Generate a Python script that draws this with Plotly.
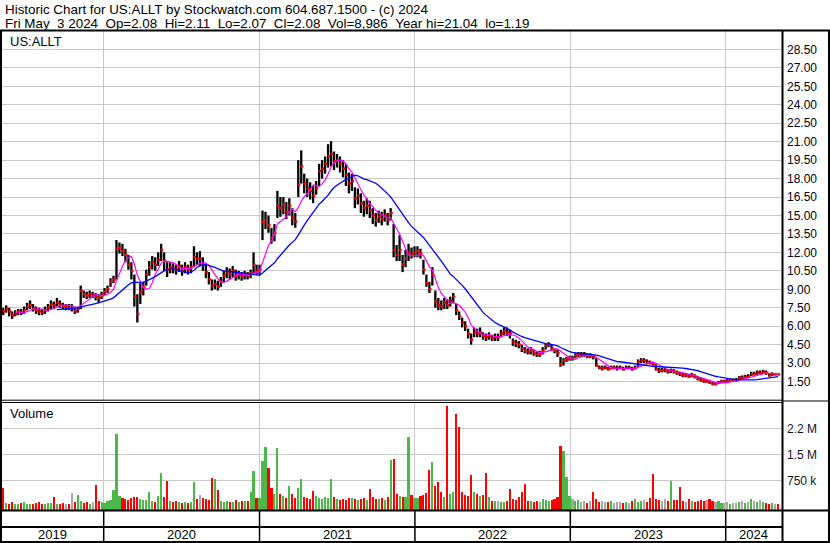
import plotly.graph_objects as go
import pandas as pd

# ---------------- data (weekly samples) ----------------
start_date = "2019-05-03"

close = [
    7.3, 7.2, 7.4, 7.2, 6.9, 7.0, 7.2, 7.1, 7.3, 7.6,
    7.7, 7.4, 7.3, 7.2, 7.1, 7.3, 7.5, 7.8, 7.7, 7.9,
    7.8, 7.6, 7.6, 7.5, 7.5, 7.2, 7.4, 8.9, 8.6, 8.5,
    8.6, 8.6, 8.4, 8.3, 8.5, 8.8, 9.0, 9.6, 9.8, 12.3,
    12.4, 12.1, 11.8, 11.0, 10.5, 8.4, 7.0, 8.8, 9.2, 10.2,
    10.8, 11.2, 11.0, 11.4, 12.2, 11.3, 10.6, 10.8, 10.7, 10.6,
    10.9, 10.5, 10.8, 10.6, 10.8, 11.6, 11.5, 11.5, 11.0, 10.4,
    9.8, 9.3, 9.4, 9.2, 9.6, 10.1, 10.4, 10.2, 10.5, 10.1,
    10.2, 10.0, 10.2, 10.1, 10.3, 11.0, 10.5, 10.6, 14.5, 14.6,
    14.2, 13.2, 13.6, 15.8, 15.6, 15.9, 15.3, 15.8, 14.8, 14.5,
    17.5, 19.0, 17.6, 17.2, 17.0, 16.6, 17.2, 18.6, 18.8, 19.2,
    19.8, 20.0, 19.4, 19.5, 19.2, 18.8, 18.3, 17.6, 17.8, 16.4,
    16.6, 16.0, 15.6, 15.8, 15.4, 15.0, 14.6, 14.9, 14.7, 15.0,
    14.6, 15.2, 12.2, 11.8, 12.2, 11.0, 11.5, 12.0, 11.8, 12.0,
    12.1, 11.9, 10.6, 9.5, 9.0, 10.2, 8.0, 7.7, 7.6, 7.9,
    7.7, 8.1, 8.4, 7.3, 6.8, 6.3, 6.0, 5.4, 4.9, 5.5,
    5.4, 5.5, 5.2, 5.1, 5.2, 5.0, 5.1, 5.1, 5.4, 5.6,
    5.5, 5.4, 4.7, 4.6, 4.5, 4.2, 4.0, 3.9, 4.0, 3.8,
    3.7, 3.7, 4.0, 4.4, 4.5, 4.2, 4.0, 3.8, 2.9, 3.2,
    3.3, 3.4, 3.4, 3.6, 3.7, 3.7, 3.7, 3.6, 3.6, 3.5,
    2.8, 2.6, 2.6, 2.6, 2.5, 2.6, 2.6, 2.6, 2.6, 2.5,
    2.6, 2.6, 2.5, 2.6, 3.1, 3.2, 3.2, 3.1, 3.0, 2.9,
    2.5, 2.4, 2.4, 2.4, 2.3, 2.4, 2.3, 2.2, 2.1, 2.0,
    2.0, 1.9, 2.0, 1.9, 1.7, 1.6, 1.5, 1.5, 1.4, 1.3,
    1.3, 1.4, 1.5, 1.5, 1.5, 1.6, 1.6, 1.6, 1.8, 1.8,
    1.9, 1.9, 2.1, 2.1, 2.2, 2.2, 2.3, 2.2, 2.0, 2.1,
    2.1, 2.08,
]

high = [
    7.7, 7.5, 7.7, 7.5, 7.2, 7.3, 7.4, 7.4, 7.6, 7.9,
    8.1, 7.8, 7.6, 7.5, 7.4, 7.6, 7.8, 8.1, 8.0, 8.3,
    8.1, 7.9, 7.8, 7.8, 7.8, 7.6, 7.6, 9.3, 8.9, 8.8,
    8.9, 8.8, 8.7, 8.6, 8.8, 9.1, 9.3, 9.9, 10.1, 13.0,
    12.8, 12.7, 12.3, 11.8, 11.2, 10.2, 8.6, 9.5, 9.6, 10.6,
    11.3, 11.7, 11.6, 12.0, 12.7, 12.0, 11.2, 11.2, 11.1, 11.0,
    11.3, 11.0, 11.2, 11.0, 11.3, 12.5, 12.0, 12.1, 11.6, 11.0,
    10.4, 9.8, 9.8, 9.7, 10.0, 10.5, 10.8, 10.7, 10.9, 10.6,
    10.5, 10.4, 10.5, 10.4, 10.6, 12.0, 11.0, 11.0, 15.4, 15.3,
    15.0, 14.0, 14.3, 17.0, 16.5, 16.5, 16.1, 16.4, 15.6, 15.2,
    19.5, 20.3, 18.4, 18.0, 17.7, 17.4, 17.8, 19.2, 19.5, 19.8,
    20.8, 21.04, 20.2, 20.0, 19.8, 19.5, 19.2, 18.5, 18.4, 17.3,
    17.2, 16.8, 16.2, 16.4, 16.2, 15.6, 15.2, 15.4, 15.3, 15.5,
    15.2, 15.6, 14.3, 12.6, 13.4, 11.8, 12.2, 12.7, 12.4, 12.5,
    12.5, 12.3, 11.4, 10.2, 9.6, 10.8, 8.9, 8.3, 8.1, 8.3,
    8.2, 8.4, 8.7, 7.8, 7.2, 6.7, 6.4, 5.8, 5.4, 5.9,
    5.8, 5.9, 5.5, 5.4, 5.5, 5.3, 5.4, 5.4, 5.7, 5.9,
    5.9, 5.7, 5.0, 4.9, 4.8, 4.5, 4.3, 4.2, 4.3, 4.1,
    3.9, 4.0, 4.3, 4.6, 4.7, 4.5, 4.2, 4.1, 3.5, 3.4,
    3.5, 3.6, 3.6, 3.8, 3.9, 3.9, 3.9, 3.8, 3.8, 3.7,
    3.4, 2.8, 2.8, 2.8, 2.7, 2.8, 2.8, 2.8, 2.8, 2.7,
    2.8, 2.8, 2.7, 2.8, 3.3, 3.4, 3.4, 3.3, 3.2, 3.1,
    2.9, 2.6, 2.6, 2.6, 2.5, 2.55, 2.5, 2.4, 2.3, 2.2,
    2.2, 2.1, 2.2, 2.1, 1.9, 1.8, 1.7, 1.7, 1.6, 1.5,
    1.45, 1.55, 1.65, 1.65, 1.7, 1.75, 1.75, 1.8, 1.95, 2.0,
    2.05, 2.1, 2.3, 2.3, 2.4, 2.4, 2.45, 2.4, 2.2, 2.25,
    2.2, 2.11,
]

low = [
    7.0, 6.9, 7.1, 6.8, 6.6, 6.8, 6.9, 6.9, 7.0, 7.3,
    7.4, 7.2, 7.0, 6.9, 6.9, 7.0, 7.2, 7.4, 7.4, 7.6,
    7.5, 7.4, 7.3, 7.3, 7.2, 7.0, 7.1, 7.4, 8.3, 8.2,
    8.3, 8.3, 8.1, 7.9, 8.2, 8.5, 8.7, 9.2, 9.5, 9.8,
    11.9, 11.7, 11.2, 10.6, 9.8, 7.6, 6.3, 7.8, 8.5, 9.3,
    10.1, 10.6, 10.5, 10.9, 11.3, 10.5, 10.0, 10.3, 10.3, 10.2,
    10.4, 10.1, 10.3, 10.2, 10.3, 10.8, 11.0, 10.9, 10.5, 9.9,
    9.4, 8.9, 9.0, 8.9, 9.2, 9.6, 9.9, 9.8, 10.0, 9.7,
    9.8, 9.7, 9.8, 9.8, 9.9, 10.3, 10.2, 10.2, 13.0, 13.9,
    13.6, 12.7, 12.9, 14.8, 14.9, 15.1, 14.7, 15.0, 14.2, 14.0,
    16.5, 17.6, 16.8, 16.5, 16.3, 16.0, 16.7, 17.4, 18.0, 18.4,
    18.9, 19.0, 18.7, 18.9, 18.5, 18.1, 17.4, 16.8, 17.0, 15.6,
    15.9, 15.2, 14.9, 15.1, 14.8, 14.3, 14.1, 14.4, 14.2, 14.5,
    14.2, 14.6, 11.6, 11.3, 11.3, 10.4, 10.8, 11.3, 11.5, 11.6,
    11.6, 11.5, 10.2, 9.2, 8.7, 9.3, 7.5, 7.3, 7.3, 7.4,
    7.4, 7.6, 7.9, 6.9, 6.5, 5.9, 5.6, 5.0, 4.5, 5.1,
    5.1, 5.1, 4.9, 4.8, 4.9, 4.8, 4.8, 4.8, 5.1, 5.3,
    5.2, 5.0, 4.4, 4.3, 4.2, 3.9, 3.8, 3.7, 3.7, 3.6,
    3.5, 3.5, 3.7, 4.1, 4.3, 4.0, 3.8, 3.5, 2.7, 2.8,
    3.1, 3.2, 3.2, 3.4, 3.5, 3.5, 3.5, 3.4, 3.4, 3.3,
    2.7, 2.5, 2.4, 2.5, 2.4, 2.5, 2.5, 2.4, 2.5, 2.4,
    2.5, 2.5, 2.4, 2.5, 2.7, 3.0, 3.0, 2.9, 2.9, 2.8,
    2.4, 2.2, 2.25, 2.25, 2.15, 2.2, 2.15, 2.05, 1.95, 1.85,
    1.85, 1.8, 1.85, 1.75, 1.6, 1.5, 1.4, 1.4, 1.3, 1.2,
    1.19, 1.3, 1.4, 1.4, 1.4, 1.5, 1.5, 1.5, 1.65, 1.7,
    1.8, 1.8, 1.95, 2.0, 2.05, 2.1, 2.15, 2.05, 1.9, 1.95,
    2.0, 2.07,
]

volume_k = [
    160, 530, 90, 70, 120, 80, 60, 90, 110, 70,
    60, 80, 90, 130, 70, 60, 90, 100, 270, 80,
    70, 90, 60, 80, 380, 120, 320, 150, 90, 110,
    80, 120, 610, 150, 110, 90, 140, 180, 470, 2080,
    300, 250, 220, 180, 240, 280, 260, 200, 190, 170,
    400, 160, 120, 300, 960, 260, 730, 150, 110, 140,
    120, 90, 130, 100, 110, 700, 200, 330, 240, 200,
    180, 820, 790, 480, 160, 120, 150, 130, 110, 170,
    120, 140, 160, 150, 420, 1020, 250, 230, 1300, 1720,
    1100, 530, 350, 1690, 360, 300, 250, 600, 350, 240,
    530, 790, 280, 250, 220, 450, 300, 250, 200, 280,
    240, 790, 260, 200, 180, 220, 190, 250, 230, 200,
    180, 210, 250, 190, 500, 260, 220, 200, 240, 180,
    260, 1340, 1370, 350, 300, 280, 270, 1990, 320, 250,
    230, 300, 330, 380, 1050, 1280, 600, 700, 400, 280,
    2890, 350, 420, 2660, 2290, 400, 320, 300, 900, 420,
    350, 300, 340, 960, 280, 160, 150, 140, 120, 130,
    150, 500, 200, 180, 260, 400, 650, 150, 140, 120,
    160, 130, 200, 170, 150, 180, 220, 260, 1740, 1600,
    850, 300, 200, 150, 180, 120, 140, 100, 160, 420,
    200, 130, 150, 120, 110, 140, 100, 130, 120, 90,
    110, 100, 140, 200, 120, 150, 180, 130, 240, 930,
    200, 180, 160, 220, 150, 720, 190, 170, 560, 140,
    130, 200, 150, 120, 160, 190, 140, 170, 200, 150,
    120, 140, 100, 90, 110, 80, 100, 90, 130, 140,
    90, 120, 200, 150, 110, 170, 130, 90, 80, 100,
    70, 60,
]

year_labels = ["2019", "2020", "2021", "2022", "2023", "2024"]
year_starts = ["2020-01-01", "2021-01-01", "2022-01-01", "2023-01-01", "2024-01-01"]
price_ticks = [1.5, 3.0, 4.5, 6.0, 7.5, 9.0, 10.5, 12.0, 13.5, 15.0,
               16.5, 18.0, 19.5, 21.0, 22.5, 24.0, 25.5, 27.0, 28.5]
vol_tick_vals = [750000, 1500000, 2250000]
vol_tick_text = ["750 k", "1.5 M", "2.2 M"]

title1 = "Historic Chart for US:ALLT by Stockwatch.com 604.687.1500 - (c) 2024"
title2 = ("Fri May \u00a03 2024 \u00a0Op=2.08 \u00a0Hi=2.11 \u00a0Lo=2.07 \u00a0Cl=2.08"
          " \u00a0Vol=8,986 \u00a0Year hi=21.04 \u00a0lo=1.19")

# ---------------- derived ----------------
dates = pd.date_range(start_date, periods=len(close), freq="7D")
cs = pd.Series(close)
ma_short = cs.rolling(6).mean()
ma_long = cs.rolling(20).mean()

vol = [v * 1000 for v in volume_k]
vol_colors = []
for i, c in enumerate(close):
    prev = close[i - 1] if i > 0 else c - 1
    if c > prev:
        vol_colors.append("#4cb848")
    elif c < prev:
        vol_colors.append("#ff0000")
    else:
        vol_colors.append("#a8a8a8")

# ---------------- geometry ----------------
W, H = 830, 543
L, R, T, B = 1, 48, 31, 33
PW, PH = W - L - R, H - T - B


def px(X):
    return (X - L) / PW


def py(Y):
    return (H - B - Y) / PH


jan2020 = pd.Timestamp("2020-01-01")
ppd = 622.0 / 1461.0
x_left = jan2020 - pd.Timedelta(days=(103.7 - L) / ppd)
x_right = jan2020 + pd.Timedelta(days=(782 - 103.7) / ppd)

vmin = 750000 - (510 - 480.3) / 26.0 * 750000
vmax = 750000 + (480.3 - 403) / 26.0 * 750000

# ---------------- traces ----------------
fig = go.Figure()

fig.add_trace(go.Bar(
    x=dates, y=[v - vmin for v in vol], base=vmin,
    width=5.0 * 86400000, marker=dict(color=vol_colors, line_width=0),
    xaxis="x", yaxis="y2", showlegend=False, hoverinfo="skip",
))

bx, by = [], []
for d, h, l in zip(dates, high, low):
    bx += [d, d, None]
    by += [l, h, None]
fig.add_trace(go.Scatter(
    x=bx, y=by, mode="lines", line=dict(color="black", width=2.3),
    xaxis="x2", yaxis="y", showlegend=False, hoverinfo="skip",
))

fig.add_trace(go.Scatter(
    x=dates + pd.Timedelta(days=2), y=close, mode="markers",
    marker=dict(symbol="square", size=2.5, color="#ff0000", line_width=0),
    xaxis="x2", yaxis="y", showlegend=False, hoverinfo="skip",
))

fig.add_trace(go.Scatter(
    x=dates, y=ma_short, mode="lines", line=dict(color="#ff00ff", width=1.2),
    xaxis="x2", yaxis="y", showlegend=False, hoverinfo="skip",
))
fig.add_trace(go.Scatter(
    x=dates, y=ma_long, mode="lines", line=dict(color="#0000ff", width=1.3),
    xaxis="x2", yaxis="y", showlegend=False, hoverinfo="skip",
))

# ---------------- layout ----------------
grid = "#c8c8c8"
xcommon = dict(
    type="date", range=[x_left, x_right], tickvals=year_starts,
    showticklabels=False, showgrid=True, gridcolor=grid, gridwidth=1,
    ticks="", showline=False, zeroline=False, fixedrange=True,
)

fig.update_layout(
    width=W, height=H,
    margin=dict(l=L, r=R, t=T, b=B, pad=0),
    paper_bgcolor="white", plot_bgcolor="white",
    font=dict(family="Liberation Sans, Arial, sans-serif", size=12, color="black"),
    bargap=0,
    xaxis=dict(domain=[0, 1], anchor="y2", **xcommon),
    xaxis2=dict(domain=[0, 1], anchor="y", matches="x", **xcommon),
    yaxis=dict(
        domain=[py(400), 1], range=[0, 30], side="right",
        tickvals=price_ticks, tickformat=".2f",
        showgrid=True, gridcolor=grid, gridwidth=1, ticks="",
        zeroline=False, showline=False, fixedrange=True,
        tickfont=dict(size=12, color="#000010"), ticklabelstandoff=4,
    ),
    yaxis2=dict(
        domain=[0, py(403)], range=[vmin, vmax], side="right",
        tickvals=vol_tick_vals, ticktext=vol_tick_text,
        showgrid=True, gridcolor=grid, gridwidth=1, ticks="",
        zeroline=False, showline=False, fixedrange=True,
        tickfont=dict(size=12, color="#10102a"), ticklabelstandoff=4,
    ),
)

shapes = []


def hline(Y, x0, x1, w=1):
    shapes.append(dict(type="line", xref="paper", yref="paper",
                       x0=px(x0), x1=px(x1), y0=py(Y), y1=py(Y),
                       line=dict(color="black", width=w)))


def vline(X, y0, y1, w=1):
    shapes.append(dict(type="line", xref="paper", yref="paper",
                       x0=px(X), x1=px(X), y0=py(y0), y1=py(y1),
                       line=dict(color="black", width=w)))


hline(30.5, 0, 830, 2)
hline(400.2, 0, 782, 1)
hline(402.5, 0, 782, 1)
hline(401, 782, 830, 1)
hline(510.5, 0, 830, 2)
hline(527, 0, 782, 2)
hline(542, 0, 830, 2)
vline(1, 30, 543, 2)
vline(829, 30, 543, 2)
vline(782.5, 30, 543, 2)

for ys in year_starts:
    shapes.append(dict(type="line", xref="x", yref="paper",
                       x0=ys, x1=ys, y0=py(510.5), y1=py(542),
                       line=dict(color="black", width=1.5)))

annotations = [
    dict(text=title1, x=px(3), y=py(9.5), xref="paper", yref="paper",
         xanchor="left", yanchor="middle", showarrow=False,
         font=dict(size=13.4, color="black")),
    dict(text=title2, x=px(3), y=py(23.5), xref="paper", yref="paper",
         xanchor="left", yanchor="middle", showarrow=False,
         font=dict(size=13.4, color="black")),
    dict(text="US:ALLT", x=px(8), y=py(41.5), xref="paper", yref="paper",
         xanchor="left", yanchor="middle", showarrow=False,
         font=dict(size=13, color="#000020")),
    dict(text="Volume", x=px(8), y=py(413), xref="paper", yref="paper",
         xanchor="left", yanchor="middle", showarrow=False,
         font=dict(size=13, color="#000020")),
]

bounds = [x_left] + [pd.Timestamp(s) for s in year_starts] + [x_right]
for lab, a, b in zip(year_labels, bounds[:-1], bounds[1:]):
    mid = a + (b - a) / 2
    annotations.append(dict(text=lab, x=mid, y=py(534.5), xref="x", yref="paper",
                            xanchor="center", yanchor="middle", showarrow=False,
                            font=dict(size=13, color="black")))

fig.update_layout(shapes=shapes, annotations=annotations)

fig.write_html(
    "out.html",
    config={"displayModeBar": False, "staticPlot": True},
    post_script="document.body.style.margin='0px';document.body.style.padding='0px';"
                "document.body.style.overflow='hidden';",
)
